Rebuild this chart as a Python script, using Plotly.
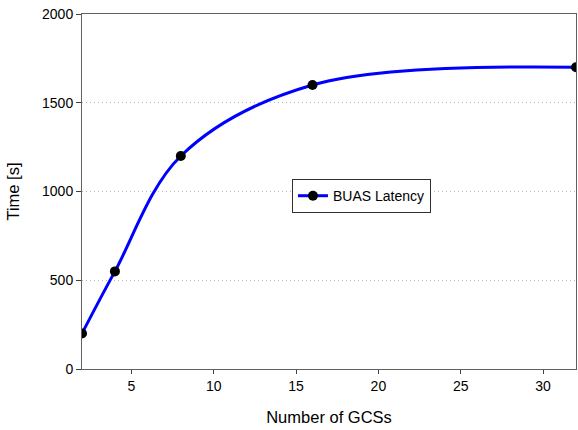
import plotly.graph_objects as go

# Latency of the BUAS as the number of ground control stations grows
num_gcs = [2, 4, 8, 16, 32]
latency_s = [200, 550, 1200, 1600, 1700]
series_name = "BUAS Latency"

x_ticks = [5, 10, 15, 20, 25, 30]
y_ticks = [0, 500, 1000, 1500, 2000]

font_family = "Liberation Sans, Arial, sans-serif"

fig = go.Figure()
fig.add_trace(go.Scatter(
    x=num_gcs,
    y=latency_s,
    mode="lines+markers",
    name=series_name,
    line=dict(color="#0000ff", width=3, shape="spline", smoothing=1.0),
    marker=dict(color="black", size=10),
))

axis_common = dict(
    showline=True,
    linecolor="#606060",
    linewidth=1,
    mirror=True,
    ticks="outside",
    tickcolor="#404040",
    tickfont=dict(size=14, color="black", family=font_family),
    zeroline=False,
)

fig.update_layout(
    width=578,
    height=430,
    margin=dict(l=82, r=2, t=14, b=61),
    paper_bgcolor="white",
    plot_bgcolor="white",
    font=dict(family=font_family, color="black"),
    xaxis=dict(
        range=[2, 32],
        tickvals=x_ticks,
        ticklen=4,
        showgrid=False,
        title=dict(text="Number of GCSs", font=dict(size=16.5), standoff=18),
        **axis_common,
    ),
    yaxis=dict(
        range=[0, 2000],
        tickvals=y_ticks,
        ticklen=5,
        showgrid=True,
        gridcolor="#b8b8b8",
        griddash="1px,3px",
        gridwidth=1,
        title=dict(text="Time [s]", font=dict(size=16.5), standoff=18),
        **axis_common,
    ),
    legend=dict(
        x=0.425,
        y=0.487,
        xanchor="left",
        yanchor="middle",
        bgcolor="white",
        bordercolor="#303030",
        borderwidth=1,
        font=dict(size=14, family=font_family),
    ),
    showlegend=True,
)

fig.write_html("out.html")
